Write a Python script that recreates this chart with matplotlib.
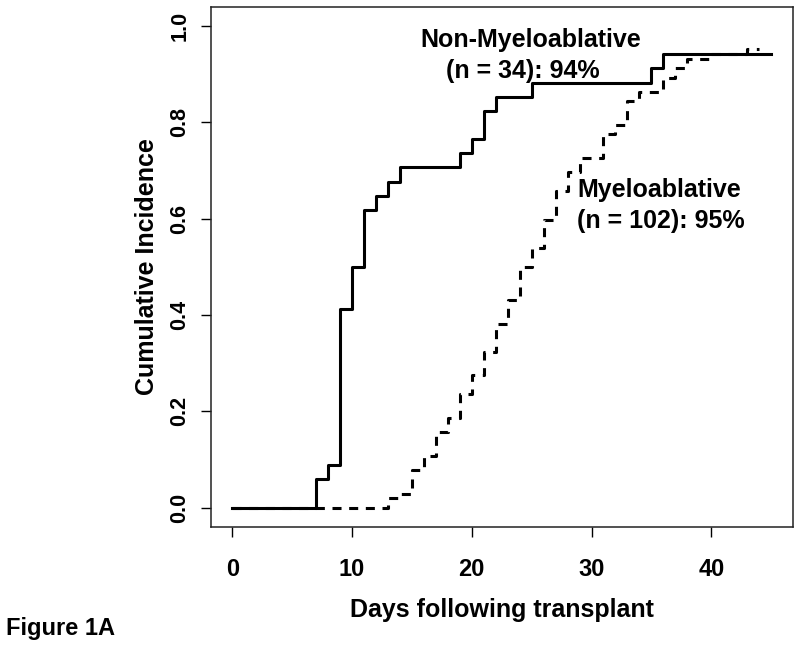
import matplotlib
matplotlib.use("Agg")
from matplotlib import pyplot as plt

# cumulative incidence step curves
nonmyelo_days = [0, 7, 8, 9, 10, 11, 12, 13, 14, 19, 20, 21, 22, 25, 35, 36, 45]
nonmyelo_cum = [0, 0.059, 0.088, 0.412, 0.500, 0.618, 0.647, 0.676, 0.706,
                0.735, 0.765, 0.824, 0.853, 0.882, 0.912, 0.941, 0.941]

myelo_days = [0, 13, 14, 15, 16, 17, 18, 19, 20, 21, 22, 23, 24, 25, 26, 27,
              28, 29, 31, 32, 33, 34, 36, 37, 38, 40, 43, 44]
myelo_cum = [0, 0.020, 0.029, 0.078, 0.108, 0.157, 0.186, 0.235, 0.275,
             0.324, 0.382, 0.431, 0.500, 0.539, 0.598, 0.657, 0.696, 0.725,
             0.775, 0.794, 0.843, 0.863, 0.892, 0.912, 0.931, 0.941, 0.951, 0.951]

x_ticks = [0, 10, 20, 30, 40]
y_ticks = [0.0, 0.2, 0.4, 0.6, 0.8, 1.0]
y_tick_labels = ["0.0", "0.2", "0.4", "0.6", "0.8", "1.0"]

plt.rcParams['font.family'] = ['Liberation Sans', 'DejaVu Sans']
plt.rcParams['font.weight'] = 'bold'
plt.rcParams['lines.scale_dashes'] = False

fig = plt.figure(figsize=(8, 6.48), dpi=100)
ax = fig.add_axes([210.7 / 800, 1 - 527 / 648, 582 / 800, 520.5 / 648])

ax.plot(myelo_days, myelo_cum, drawstyle='steps-post', color='black',
        lw=2.2, dashes=(6.5, 5.5))
ax.plot(nonmyelo_days, nonmyelo_cum, drawstyle='steps-post', color='black',
        lw=2.2)

ax.set_xlim(-1.8, 46.8)
ax.set_ylim(-0.04, 1.04)
ax.set_xticks(x_ticks)
ax.set_yticks(y_ticks)
ax.set_yticklabels(y_tick_labels, rotation=90, va='center')
ax.tick_params(axis='x', direction='out', length=7.5, width=1, labelsize=17, pad=15)
ax.tick_params(axis='y', direction='out', length=7.5, width=1, labelsize=15.5, pad=7)
for sp in ax.spines.values():
    sp.set_linewidth(1.1)
    sp.set_color('#222222')

ax.set_xlabel("Days following transplant", fontsize=18, fontweight='bold')
ax.xaxis.set_label_coords(0.5, -0.1729)
ax.xaxis.label.set_va('baseline')
ax.set_ylabel("Cumulative Incidence", fontsize=18, fontweight='bold')
ax.yaxis.set_label_coords((147 - 210.7) / 582, 0.5)
ax.yaxis.label.set_va('center')

ax.text(24.94, 0.957, "Non-Myeloablative", ha='center', va='baseline',
        fontsize=18, fontweight='bold')
ax.text(24.27, 0.8914, "(n = 34): 94%", ha='center', va='baseline',
        fontsize=18, fontweight='bold')
ax.text(28.79, 0.6456, "Myeloablative", ha='left', va='baseline',
        fontsize=18, fontweight='bold')
ax.text(28.79, 0.580, "(n = 102): 95%", ha='left', va='baseline',
        fontsize=18, fontweight='bold')

fig.text(6 / 800, 1 - 635 / 648, "Figure 1A", ha='left', va='baseline',
         fontsize=17, fontweight='bold')

fig.savefig("out.png", dpi=100)
